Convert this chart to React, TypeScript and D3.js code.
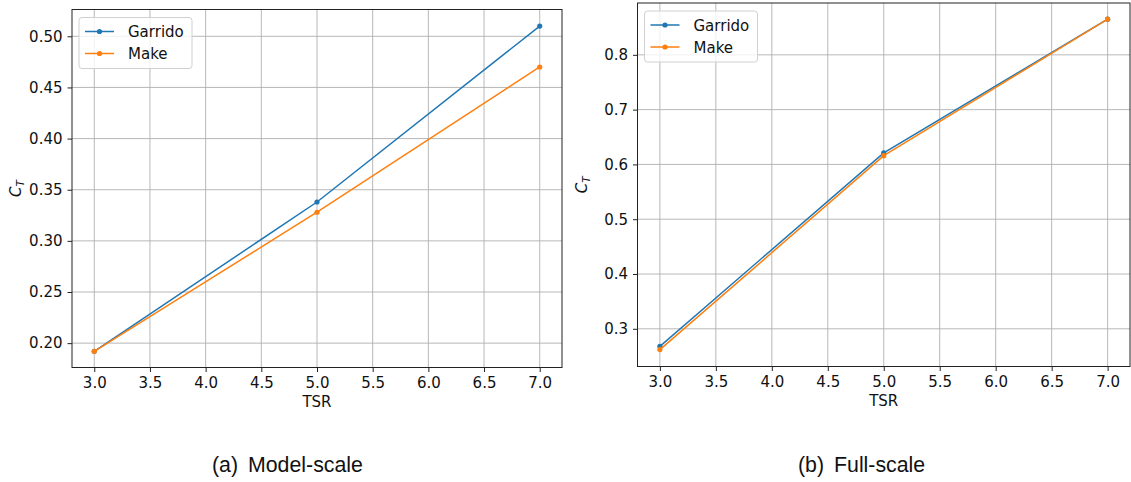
import React, { useEffect, useRef } from 'react';
import * as d3 from 'd3';

// TSR values shared by both panels
const tsr = [3.0, 5.0, 7.0];
const xTicks = [3.0, 3.5, 4.0, 4.5, 5.0, 5.5, 6.0, 6.5, 7.0];

// (a) model-scale thrust coefficient
const modelGarrido = [0.192, 0.338, 0.510];
const modelMake = [0.192, 0.328, 0.470];
const modelYTicks = [0.20, 0.25, 0.30, 0.35, 0.40, 0.45, 0.50];

// (b) full-scale thrust coefficient
const fullGarrido = [0.268, 0.621, 0.865];
const fullMake = [0.262, 0.616, 0.865];
const fullYTicks = [0.3, 0.4, 0.5, 0.6, 0.7, 0.8];

const seriesNames = ['Garrido', 'Make'];
const colors = ['#1f77b4', '#ff7f0e'];

const tickFont = '"DejaVu Sans", sans-serif';
const fontSize = '15px';

const drawPanel = (svg, cfg) => {
    const { left, right, top, bottom, xDomain, yDomain, yTicks, yFmt, series, tag, caption, captionX } = cfg;

    const x = d3.scaleLinear().domain(xDomain).range([left, right]);
    const y = d3.scaleLinear().domain(yDomain).range([bottom, top]);

    const g = svg.append('g');

    // grid
    g.selectAll('.vgrid')
        .data(xTicks)
        .enter()
        .append('line')
        .attr('x1', (d) => x(d))
        .attr('x2', (d) => x(d))
        .attr('y1', top)
        .attr('y2', bottom)
        .attr('stroke', '#b0b0b0')
        .attr('stroke-width', 0.9);

    g.selectAll('.hgrid')
        .data(yTicks)
        .enter()
        .append('line')
        .attr('x1', left)
        .attr('x2', right)
        .attr('y1', (d) => y(d))
        .attr('y2', (d) => y(d))
        .attr('stroke', '#b0b0b0')
        .attr('stroke-width', 0.9);

    // axes
    const xAxis = g.append('g')
        .attr('transform', `translate(0,${bottom})`)
        .call(d3.axisBottom(x).tickValues(xTicks).tickFormat(d3.format('.1f')).tickSize(4.5).tickPadding(5));

    const yAxis = g.append('g')
        .attr('transform', `translate(${left},0)`)
        .call(d3.axisLeft(y).tickValues(yTicks).tickFormat(d3.format(yFmt)).tickSize(4.5).tickPadding(5));

    [xAxis, yAxis].forEach((a) => {
        a.select('.domain').remove();
        a.selectAll('line').attr('stroke', '#222').attr('stroke-width', 1);
        a.selectAll('text')
            .attr('fill', '#111')
            .style('font-family', tickFont)
            .style('font-size', fontSize);
    });

    // frame
    g.append('rect')
        .attr('x', left)
        .attr('y', top)
        .attr('width', right - left)
        .attr('height', bottom - top)
        .attr('fill', 'none')
        .attr('stroke', '#222')
        .attr('stroke-width', 1);

    // lines + markers
    const line = d3.line().x((d) => x(d[0])).y((d) => y(d[1]));

    series.forEach((vals, i) => {
        const pts = tsr.map((t, j) => [t, vals[j]]);
        g.append('path')
            .datum(pts)
            .attr('d', line)
            .attr('fill', 'none')
            .attr('stroke', colors[i])
            .attr('stroke-width', 1.5);
        g.selectAll(`.pt${i}`)
            .data(pts)
            .enter()
            .append('circle')
            .attr('cx', (d) => x(d[0]))
            .attr('cy', (d) => y(d[1]))
            .attr('r', 2.6)
            .attr('fill', colors[i]);
    });

    // legend
    const lg = g.append('g').attr('transform', `translate(${left + 7},${top + 8})`);
    lg.append('rect')
        .attr('width', 113)
        .attr('height', 51)
        .attr('rx', 3)
        .attr('fill', 'white')
        .attr('fill-opacity', 0.8)
        .attr('stroke', '#d0d0d0');
    seriesNames.forEach((name, i) => {
        const cy = 14 + i * 22;
        lg.append('line')
            .attr('x1', 6)
            .attr('x2', 35)
            .attr('y1', cy)
            .attr('y2', cy)
            .attr('stroke', colors[i])
            .attr('stroke-width', 1.5);
        lg.append('circle').attr('cx', 20.5).attr('cy', cy).attr('r', 2.6).attr('fill', colors[i]);
        lg.append('text')
            .attr('x', 49)
            .attr('y', cy + 5.5)
            .style('font-family', tickFont)
            .style('font-size', fontSize)
            .attr('fill', '#111')
            .text(name);
    });

    // axis labels
    g.append('text')
        .attr('x', (left + right) / 2)
        .attr('y', bottom + 39)
        .attr('text-anchor', 'middle')
        .style('font-family', tickFont)
        .style('font-size', fontSize)
        .attr('fill', '#111')
        .text('TSR');

    const yl = g.append('text')
        .attr('transform', `translate(${left - 51},${(top + bottom) / 2}) rotate(-90)`)
        .attr('text-anchor', 'middle')
        .style('font-family', tickFont)
        .style('font-size', fontSize)
        .attr('fill', '#111');
    yl.append('tspan').style('font-style', 'italic').text('C');
    yl.append('tspan')
        .style('font-style', 'italic')
        .style('font-size', '10.5px')
        .attr('dy', 3)
        .text('T');

    // caption
    const cap = g.append('text')
        .attr('x', captionX)
        .attr('y', 472)
        .style('font-family', '"Liberation Sans", Arial, sans-serif')
        .style('font-size', '21.3px')
        .attr('fill', '#111');
    cap.append('tspan').text(tag);
    cap.append('tspan').attr('dx', 10).text(caption);
};

const App = () => {
    const ref = useRef(null);

    useEffect(() => {
        const svg = d3.select(ref.current);
        svg.selectAll('*').remove();

        drawPanel(svg, {
            left: 72, right: 562, top: 9.5, bottom: 367.5,
            xDomain: [2.8, 7.2], yDomain: [0.1762, 0.5262],
            yTicks: modelYTicks, yFmt: '.2f',
            series: [modelGarrido, modelMake],
            tag: '(a)', caption: 'Model-scale', captionX: 212,
        });

        drawPanel(svg, {
            left: 637.5, right: 1130, top: 3, bottom: 366.5,
            xDomain: [2.8, 7.2], yDomain: [0.2312, 0.8946],
            yTicks: fullYTicks, yFmt: '.1f',
            series: [fullGarrido, fullMake],
            tag: '(b)', caption: 'Full-scale', captionX: 798,
        });
    }, []);

    return (
        <div style={{ position: 'absolute', left: 0, top: 0 }}>
            <svg ref={ref} width={1131} height={482} style={{ display: 'block', background: 'white' }} />
        </div>
    );
};

export default App;
